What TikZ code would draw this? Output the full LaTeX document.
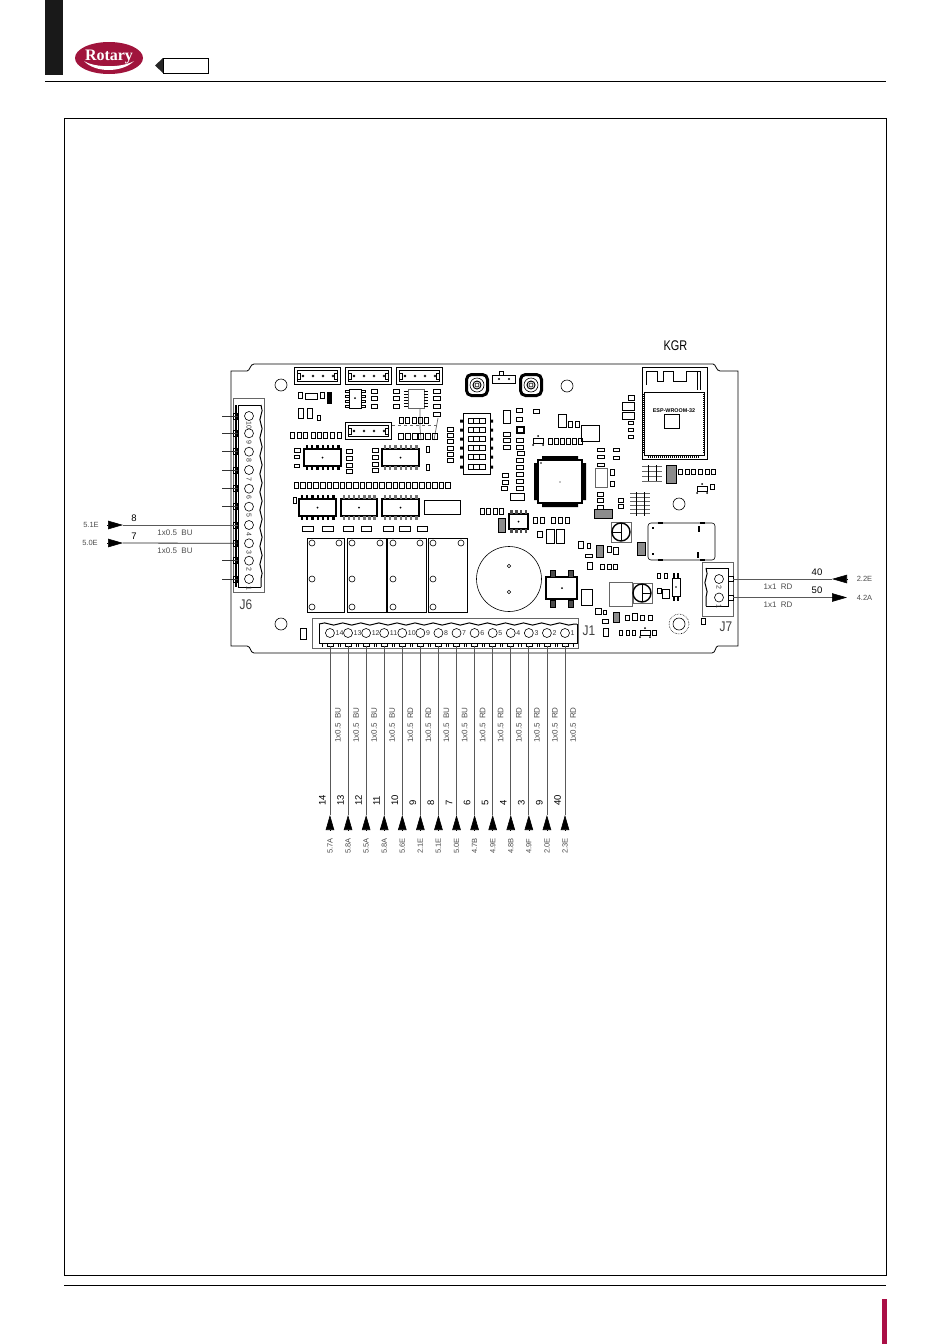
\documentclass[tikz,border=0pt]{standalone}
\usepackage{fontspec}
\setmainfont{Liberation Sans}
\newfontfamily\logofont{Liberation Serif}
\usetikzlibrary{arrows.meta,calc,decorations.pathmorphing}
\definecolor{rotaryred}{RGB}{160,20,60}
\definecolor{barred}{RGB}{170,15,70}
\tikzset{
  part/.style={draw=black,line width=.6pt},
  smd/.style={draw=black,line width=.8pt},
  thick part/.style={draw=black,line width=1.4pt},
  soft/.style={draw=black!60,line width=.7pt},
  frameline/.style={draw=black,line width=.8pt},
  wire/.style={draw=black!65,line width=.8pt},
  tipline/.style={draw=black,line width=.6pt,-{Triangle[length=15pt,width=8.5pt]}},
  wavy/.style={decorate,decoration={snake,amplitude=1.1pt,segment length=18.08pt}},
  cablelabel/.style={inner sep=0pt,text=black!70,font=\fontsize{8}{9}\selectfont},
  wirenum/.style={inner sep=0pt,font=\fontsize{9.5}{10}\selectfont},
  reflabel/.style={inner sep=0pt,text=black!70,font=\fontsize{7.5}{8}\selectfont},
  pinnum/.style={inner sep=0pt,text=black!80,font=\fontsize{7}{8}\selectfont},
  connname/.style={inner sep=0pt,xscale=.85,text=black!75,font=\fontsize{14}{15}\selectfont}
}
\newcommand{\jstconn}[2]{
  \draw[part] (#1,#2) rectangle ++(46,17);
  \draw[part] (#1+3,#2+3) rectangle ++(40,11);
  \draw[part] (#1+3,#2+6) rectangle ++(3,6);
  \draw[part] (#1+40,#2+6) rectangle ++(3,6);
  \fill (#1+9,#2+9) circle (1.3);
  \foreach \k in {19,29,39} \draw[part] (#1+\k,#2+9) circle (1);
}
\newcommand{\soicchip}[6][black]{
  \draw[thick part] (#2,#3) rectangle ++(#4,#5);
  \fill (#2+#4/2,#3+#5/2) circle (1);
  \foreach \k in {1,...,#6} {
    \fill[#1] (#2+#4*\k/#6-#4/#6/2-1,#3-4) rectangle ++(2.4,4);
    \fill[#1] (#2+#4*\k/#6-#4/#6/2-1,#3+#5) rectangle ++(2.4,4);
  }
}
\newcommand{\tactbtn}[2]{
  \draw[line width=3pt,rounded corners=5pt] (#1-10.5,#2-10.5) rectangle (#1+10.5,#2+10.5);
  \draw[part] (#1,#2) circle (7);
  \draw[line width=1pt] (#1,#2) circle (4);
  \draw[part] (#1,#2) circle (2);
}
\begin{document}
\begin{tikzpicture}[x=1pt,y=-1pt]
  \useasboundingbox (0,0) rectangle (950,1344);

  \fill[black!90] (45,0) rectangle (63,75);
  \draw[frameline] (45,81.5) -- (886,81.5);
  \draw[frameline] (64.5,118.5) rectangle (886,1275);
  \draw[frameline] (64,1285) -- (886,1285);
  \fill[barred] (882,1299) rectangle (887,1344);

  \fill[rotaryred] (109,58) ellipse (34 and 16);
  \fill[white] (84,61) .. controls (95,73) and (122,73) .. (134,61) .. controls (122,68) and (95,68) .. (84,61);
  \node (logo) [inner sep=0pt,text=white,font=\logofont\bfseries\fontsize{16}{16}\selectfont] at (109,57) {Rotary};
  \fill[black!85] (155,65.5) -- (163,58) -- (163,73) -- cycle;
  \draw[frameline] (163,58) rectangle (208,73);

  \draw[part,line width=.8pt] (231,371) -- (247,371) .. controls (250,371) and (250,364) .. (254,364) -- (713,364)
    .. controls (716,364) and (716,371) .. (720,371) -- (738,371) -- (738,646) -- (718,646)
    .. controls (715,646) and (716,653) .. (712,653) -- (254,653) .. controls (250,653) and (251,646) .. (247,646) -- (231,646) -- cycle;

  \foreach \x/\y in {281/385,567/386,679/504,281/624,679/624} \draw[part] (\x,\y) circle (6);
  \draw[part,densely dotted] (679,624) circle (10);

  \jstconn{294}{367}
  \jstconn{345}{367}
  \jstconn{396}{367}
  \jstconn{345}{422}
  \tactbtn{477}{385}
  \tactbtn{531}{385}
  \draw[part] (492,375) rectangle (515,383);
  \draw[part] (499,375) -- (499,371) -- (503,371) -- (503,375);
  \fill (499,379) circle (1.2) (509,379) circle (1.2);

  \soicchip{304}{449}{37}{17}{7}
  \soicchip[black!55]{382}{449}{37}{17}{7}
  \soicchip{299}{499}{37}{17}{7}
  \soicchip[black!55]{341}{499}{36}{17}{7}
  \soicchip[black!55]{382}{499}{37}{17}{7}
  \soicchip[black!70]{509}{514}{19}{15}{4}

  \draw[part] (349,389) rectangle (361,408);
  \fill (355,398) circle (1);
  \foreach \y in {391,396,401,406} {
    \draw[part] (345,\y-1) rectangle ++(4,2);
    \draw[part] (361,\y-1) rectangle ++(4,2);
  }
  \draw[soft] (408,389) rectangle (424,408);
  \foreach \y in {391,394,397,400,403,406} {
    \draw[part] (404,\y) -- (408,\y);
    \draw[part] (424,\y) -- (428,\y);
  }
  \draw[soft,dashed] (392,425) -- (438,425);
  \draw[soft] (420,408) -- (420,428) -- (421,440);
  \draw[soft] (438,418) -- (434,440);

  % small parts of the board
  \foreach \x/\y/\w/\h in {298/392/4/6,305/393/12/6,320/392/4/6,298/408/5/10,307/408/5/10,317/415/3/5,
    371/389/6/4,371/396/6/4,371/404/6/4,393/389/6/4,393/396/6/4,393/404/6/4,
    433/389/7/4,433/396/7/4,433/404/7/4,433/412/7/4,
    399/417/4/6,405/417/4/6,412/417/4/6,418/417/4/6,424/417/4/6,
    398/433/5/6,405/433/5/6,412/433/5/6,418/433/5/6,425/433/5/6,432/433/5/6,
    447/427/6/4,447/433/6/4,447/439/6/4,447/446/6/4,447/452/6/4,447/458/6/4,
    290/432/4.5/6,297/432/4.5/6,303/432/4.5/6,311/432/4.5/6,317/432/4.5/6,323/432/4.5/6,330/432/4.5/6,337/432/4.5/6,
    294/448/6/4,294/455/5/3,294/464/5/3,346/449/6/4,346/456/6/4,346/463/6/4,346/469/6/4,
    372/448/6/4,372/455/6/4,372/462/6/4,372/468/6/4,426/446/3.5/6,426/464/3.5/6,293/497/3/6,
    302/526/11/5,322/526/11/5,343/526/10/5,361/526/10/5,383/526/10/5,399/526/11/5,417/526/10/5,
    300/628/6/11,503/410/7/13,516/408/6/4,516/417/6/4,533/409/6/4,
    503/432/7/4,503/438/7/4,503/445/7/4,516/438/7/4,516/445/7/4,517/451/7/4,516/458/7/4,516/465/7/4,
    516/472/7/4,516/479/7/4,516/486/7/4,502/473/6/4,502/480/6/4,501/486/6/4,510/493/14/7,
    480/508/4/6,486/508/4/6,493/508/4/6,499/508/4/6,533/517/4/6,540/517/4/6,551/517/4/6,558/517/4/6,565/517/4/6,
    537/531/5/6,546/529/8/14,556/529/8/14,581/589/11/16,558/414/8/13,568/421/4/6,575/421/4/6,
    548/438/4.5/6,554/438/4.5/6,560/438/4.5/6,566/438/4.5/6,572/438/4.5/6,578/438/4.5/6,
    628/395/6/5,622/402/12/8,622/412/12/7,628/421.5/5/3,628/428/5/3,628/435/5/3,
    597/448/7/3.5,597/455/7/3.5,597/463/7/3.5,610/469/4.5/6,610/481/4.5/5,613/448/6/3,613/456/6/3,
    597/492/6/4,597/498/6/4,597/505/6/4,618/498/5/4,618/504/5/4,
    678/469/4/5,685/469/4/5,691/469/4/5,698/469/4/5,705/469/4/5,711/469/4/5,710/484/4/5,
    578/541/5/7,587/543/3.5/5,585/554/7/3,587/562/5/7,607/546/4/6,613/547/5/7,600/564/4/5,607/564/4/5,613/564/4/5,
    657/573/3/5,664/573/3/5,657/588/4/5,662/589/7/9,595/608/6/6,603/610/3.5/4.5,602/619/6/4,603/628/5/8,
    625/615/4/5,632/613/5/7,640/615/4/5,648/615/4/5,619/630/3.5/5,626/630/3.5/5,632/630/3.5/5,652/630/4/5,701/618/4/6}
    \draw[smd] (\x,\y) rectangle ++(\w,\h);
  \foreach \i in {0,...,23} \draw[smd] (294+6.6*\i,482) rectangle ++(4.5,6);
  \fill (327,392) rectangle (332,404);

  \foreach \x/\y/\w/\h in {424/500/36/14,307/538/37/74,347/538/39/74,387/538/39/74,428/538/39/74}
    \draw[part] (\x,\y) rectangle ++(\w,\h);
  \foreach \x/\y in {312/543,339/543,312/579,312/607,352/543,380/543,352/579,352/607,
    393/543,420/543,393/579,393/607,433/543,461/543,433/579,433/607}
    \draw[part] (\x,\y) circle (3);

  \draw[part] (509,579) circle (32.5);
  \foreach \y in {566,592} \draw[part] (509,\y) circle (1.8);
  \draw[thick part] (546,577) rectangle (577,599);
  \fill (562,588) circle (1);
  \foreach \x/\y in {550/570,568/570,550/600,568/600} \draw[smd,fill=black!70] (\x,\y) rectangle ++(5,7);

  \draw[soft] (609,582) rectangle (632,606);
  \draw[soft] (633,583) rectangle (652,603);
  \draw[thick part] (642,593) circle (9);
  \draw[part] (642,584) -- (642,602) (642,593) -- (651,593);
  \draw[soft] (611,522) rectangle (631,542);
  \draw[thick part] (621,532) circle (9);
  \draw[part] (621,523) -- (621,541) (612,532) -- (621,532);

  \draw[thick part] (538,460) rectangle (582,503);
  \fill (560,482) circle (.6) (541,463) circle (.8);
  \fill (542,456) rectangle (578,460) (542,503) rectangle (578,507);
  \fill (534,463) rectangle (538,500) (582,463) rectangle (586,500);
  \draw[soft] (595,468) rectangle (607,487);
  \draw[part] (581,425) rectangle (599,441);

  \draw[part,line width=.9pt] (642,367) rectangle (707,459);
  \draw[part,line width=.9pt] (644,392) rectangle (704,455);
  \draw[line width=1.8pt,dash pattern=on 1pt off 1pt] (644,394) -- (644,453) (704,394) -- (704,453) (648,457) -- (700,457);
  \draw[part,line width=1pt] (646,385) -- (646,371) -- (657,371) -- (657,381) -- (663,381) -- (663,371) -- (673,371) -- (673,381) -- (686,381) -- (686,371) -- (700,371) -- (700,390);
  \draw[part] (697,371) -- (697,390);
  \node (espname) [inner sep=0pt,font=\bfseries\fontsize{5.4}{6}\selectfont] at (674,411) {ESP-WROOM-32};
  \draw[part] (664,414) rectangle (679,428);

  \draw[part] (463,413) rectangle (490,474);
  \foreach \y in {421,430,439,448,457,467} {
    \draw[part] (468,\y-2.5) rectangle ++(17,5);
    \draw[part] (473,\y-2.5) -- ++(0,5) (479,\y-2.5) -- ++(0,5);
    \fill (460,\y-1.5) rectangle ++(3,3) (490,\y-1.5) rectangle ++(3,3);
  }
  \draw[thick part] (517,427) rectangle (524,433);
  \foreach \x/\y/\w/\h in {498/518/7/14,637/542/8/13,596/545/7/12,613/612/6/10,666/465/10/18,594/509/18/9}
    \draw[smd,fill=black!45] (\x,\y) rectangle ++(\w,\h);

  \foreach \y in {0,4,8,12,16,20} \draw[soft] (630,493+\y) -- (650,493+\y);
  \foreach \x in {636,644} \draw[part] (\x,492) -- (\x,516);
  \foreach \y in {0,5,10,15} \draw[soft] (642,466+\y) -- (662,466+\y);
  \foreach \x in {648,656} \draw[part] (\x,465) -- (\x,481);
  \foreach \x/\y in {697/484,640/628,533/436} {
    \draw[part] (\x,\y+2) -- ++(10,0) -- ++(0,5) -- ++(-10,0) -- cycle;
    \fill (\x+5,\y) circle (1) (\x,\y+9) circle (1) (\x+10,\y+9) circle (1);
  }
  \draw[part,rounded corners=3pt] (648,523) rectangle (715,560);
  \foreach \x/\y/\w/\h in {658/522/5/2,700/522/5/2,658/559/5/2,700/559/5/2,698/526/2/6,697/552/2/6,652/527/2/2,652/553/2/2}
    \fill (\x,\y) rectangle ++(\w,\h);
  \draw[part] (672,578) rectangle (680,596);
  \fill (676,587) circle (.8);
  \foreach \x in {673,677} {
    \fill (\x,573) rectangle ++(2,5);
    \fill (\x,596) rectangle ++(2,5);
  }

  % J6
  \draw[soft] (233,398) rectangle (264,592);
  \draw[part] (238,405) -- (238,587) -- (261,587);
  \draw[part,line width=1pt] (238,405) -- (261,405);
  \draw[part,line width=1pt,wavy] (261,405) -- (261,587);
  \draw[line width=1.2pt] (236,405) -- (236,587);
  \foreach \i/\y in {1/579,2/560.7,3/543.3,4/525,5/506.7,6/488.7,7/470,8/451.7,9/433.3,10/416} {
    \draw[part] (249,\y) circle (4.5);
    \node (j6n\i) [pinnum,rotate=-90] at (249,\y+9) {\i};
    \coordinate (j6p\i) at (238,\y);
    \draw[part] (233,\y-3) rectangle ++(4,6);
  }
  \node (j6name) [connname] at (246,605) {J6};
  \foreach \i in {1,2,5,6,7,8,9,10} {
    \coordinate (j6s\i) at ($(j6p\i)+(-16,0)$);
    \draw[wire,draw=black!80] (j6p\i) -- (j6s\i);
  }

  % J7
  \draw[soft] (702,562) rectangle (733,616);
  \draw[part,line width=1pt] (728,568) -- (728,606) -- (706,606);
  \draw[part,line width=1pt] (706,568) -- (728,568);
  \draw[part,line width=1pt,wavy] (706,568) -- (706,606);
  \foreach \i/\y in {1/597.5,2/579} {
    \draw[part] (719,\y) circle (4.5);
    \node (j7n\i) [pinnum,rotate=-90] at (719,\y+8.5) {\i};
    \draw[part] (728,\y-2.5) rectangle ++(5,5);
    \coordinate (j7p\i) at (733,\y);
  }
  \node (j7name) [connname] at (726,627) {J7};

  % J1
  \draw[soft] (312,618) rectangle (578,648);
  \draw[part,line width=1pt] (319,643) -- (319,624);
  \draw[part,line width=1pt,wavy] (319,624) -- (577,624);
  \draw[part,line width=1pt] (577,624) -- (577,643) -- (319,643);
  \node (j1name) [connname] at (589,631) {J1};

  \foreach \i/\num/\val/\cab in {14/14/5.7A/BU,13/13/5.8A/BU,12/12/5.5A/BU,11/11/5.8A/BU,10/10/5.6E/RD,9/9/2.1E/RD,8/8/5.1E/BU,
    7/7/5.0E/BU,6/6/4.7B/RD,5/5/4.9E/RD,4/4/4.8B/RD,3/3/4.9F/RD,2/9/2.0E/RD,1/40/2.3E/RD} {
    \pgfmathsetmacro{\xw}{565-18.08*(\i-1)}
    \draw[part] (\xw,633) circle (4.5);
    \node (j1n\i) [pinnum,anchor=west] at (\xw+5.5,633) {\i};
    \draw[part] (\xw-3,643) rectangle ++(6,3);
    \draw[part] (\xw-8,643) -- ++(0,4) (\xw+8,643) -- ++(0,4);
    \coordinate (j1p\i) at (\xw,646);
    \coordinate (j1tip\i) at (\xw,815);
    \coordinate (j1base\i) at (\xw,830);
    \draw[wire] (j1p\i) -- (j1tip\i);
    \draw[tipline] (j1base\i) -- (j1tip\i);
    \node (j1cab\i) [cablelabel,rotate=90] at (\xw+8,725) {1x0.5\ \ \cab};
    \node (j1num\i) [wirenum,rotate=90,anchor=west] at (\xw-7.5,806) {\num};
    \node (j1val\i) [reflabel,rotate=90] at (\xw,846) {\val};
  }

  \coordinate (j6tip4) at (123,525);
  \coordinate (j6base4) at (107,525);
  \coordinate (j6tip3) at (123,543);
  \coordinate (j6base3) at (107,543);
  \draw[wire] (j6tip4) -- (j6p4);
  \draw[wire,draw=black!85] (j6tip3) -- (j6p3);
  \draw[tipline] (j6base4) -- (j6tip4);
  \draw[tipline] (j6base3) -- (j6tip3);
  \node (j6val4) [reflabel] at (91,525) {5.1E};
  \node (j6val3) [reflabel] at (90,543) {5.0E};
  \node (j6num4) [wirenum] at (134,518) {8};
  \node (j6num3) [wirenum] at (134,536) {7};
  \node (j6cab4) [cablelabel] at (175,532.5) {1x0.5\ \ BU};
  \node (j6cab3) [cablelabel] at (175,550.5) {1x0.5\ \ BU};

  \coordinate (j7tip2) at (832,579);
  \coordinate (j7base2) at (847,579);
  \coordinate (j7base1) at (832,597.5);
  \coordinate (j7tip1) at (847,597.5);
  \draw[wire] (j7p2) -- (j7tip2);
  \draw[tipline] (j7base2) -- (j7tip2);
  \draw[wire] (j7p1) -- (j7base1);
  \draw[tipline] (j7base1) -- (j7tip1);
  \node (j7val2) [reflabel] at (864.5,579) {2.2E};
  \node (j7val1) [reflabel] at (864.5,597.5) {4.2A};
  \node (j7num2) [wirenum] at (817,572.5) {40};
  \node (j7num1) [wirenum] at (817,590) {50};
  \node (j7cab2) [cablelabel] at (778,587) {1x1\ \ RD};
  \node (j7cab1) [cablelabel] at (778,605) {1x1\ \ RD};

  \node (kgrname) [inner sep=0pt,xscale=.78,font=\fontsize{14}{15}\selectfont] at (675.5,346) {KGR};
\end{tikzpicture}
\end{document}
